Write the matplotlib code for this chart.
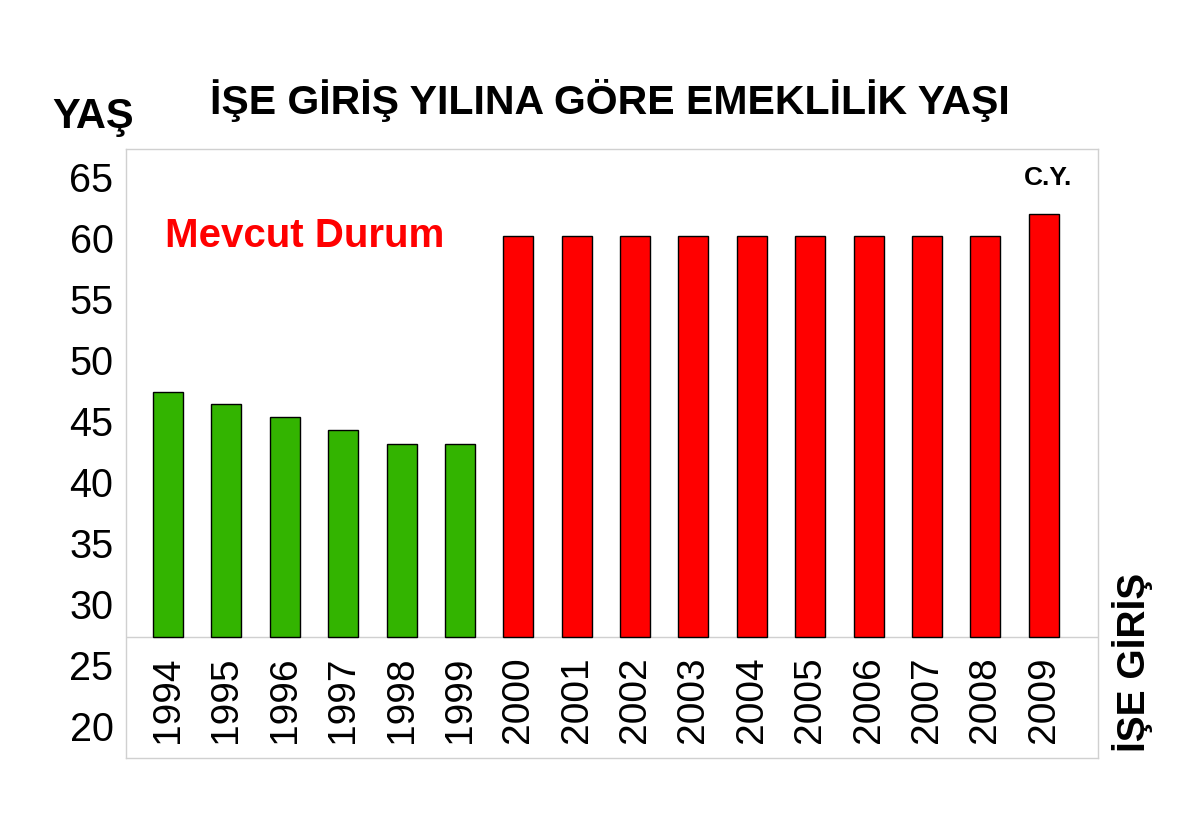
import matplotlib
matplotlib.use("Agg")
import matplotlib.pyplot as plt

plt.rcParams['font.family'] = ['Liberation Sans', 'DejaVu Sans']

# Data
years = ["1994", "1995", "1996", "1997", "1998", "1999", "2000", "2001",
         "2002", "2003", "2004", "2005", "2006", "2007", "2008", "2009"]
ages = [47.4, 46.4, 45.3, 44.3, 43.1, 43.1, 60.2, 60.2,
        60.2, 60.2, 60.2, 60.2, 60.2, 60.2, 60.2, 62.0]
groups = ["eski"] * 6 + ["yeni"] * 10
yticks = [20, 25, 30, 35, 40, 45, 50, 55, 60, 65]
base = 27.3

title = "İŞE GİRİŞ YILINA GÖRE EMEKLİLİK YAŞI"
ylabel = "YAŞ"
xlabel = "İŞE GİRİŞ"
note = "Mevcut Durum"
cy = "C.Y."

colors = {"eski": "#33B400", "yeni": "#FF0000"}

fig = plt.figure(figsize=(12, 8.27), dpi=100)
ax = fig.add_axes([0.105, 0.0834, 0.8100, 0.7364])

xs = list(range(len(years)))
heights = [a - base for a in ages]
ax.bar(xs, heights, bottom=base, width=0.514,
       color=[colors[g] for g in groups], edgecolor="black", linewidth=1, zorder=3)

ax.set_xlim(-0.72, 15.93)
ax.set_ylim(17.38, 67.30)

ax.axhline(base, color="#D0D0D0", linewidth=1, zorder=2)
for s in ax.spines.values():
    s.set_color("#D0D0D0")
    s.set_linewidth(1)

ax.set_xticks([])
ax.set_yticks(yticks)
ax.set_yticklabels([str(t) for t in yticks], fontsize=28.5)
ax.tick_params(axis="y", length=0, pad=9)

for x, y in zip(xs, years):
    ax.annotate(y, (x, base), xytext=(0, -45.0), textcoords="offset points",
                rotation=90, ha="center", va="center", fontsize=28)

ax.text(-0.05, 60.2, note, color="#FF0000", fontsize=29, fontweight="bold",
        ha="left", va="center")
ax.text(15.07, 64.9, cy, fontsize=19, fontweight="bold", ha="center", va="center")

fig.text(0.508, 0.878, title, fontsize=29.5, fontweight="bold", ha="center", va="center")
fig.text(0.0775, 0.8585, ylabel, fontsize=30, fontweight="bold", ha="center", va="center")
fig.text(0.944, 0.1995, xlabel, fontsize=28, fontweight="bold", ha="center", va="center",
         rotation=90)

fig.savefig("out.png", dpi=100)
